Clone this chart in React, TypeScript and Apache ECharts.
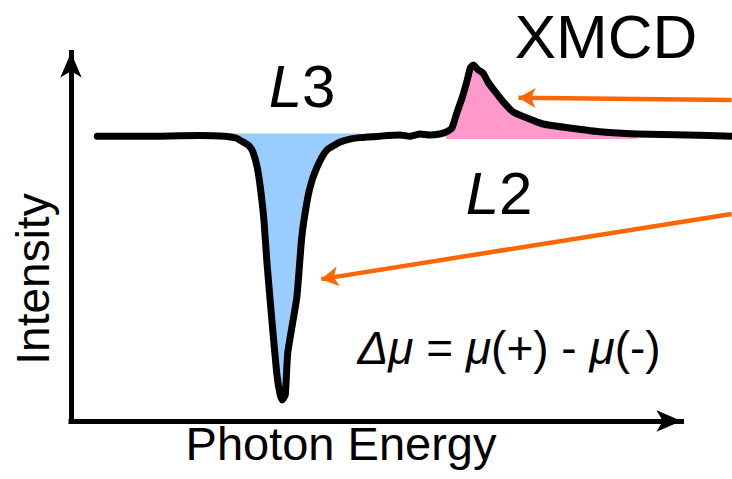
import React, { useEffect, useRef } from "react";
import * as echarts from "echarts";

// Photon energy (arbitrary units) and XMCD intensity (arbitrary units)
const energy = [4.3, 14.6, 21.1, 25.2, 27.0, 28.2, 29.2, 29.8, 30.5, 31.0, 31.6, 32.1, 32.9, 33.7, 34.2, 34.6, 35.1, 35.5, 37.0, 37.8, 38.8, 39.5, 40.3, 41.1, 41.9, 42.9, 44.1, 45.7, 47.3, 50.6, 53.9, 55.5, 57.2, 58.8, 60.4, 61.4, 62.4, 63.2, 64.1, 64.9, 65.4, 65.9, 66.7, 67.5, 68.3, 69.5, 70.8, 72.4, 74.7, 77.3, 81.7, 87.1, 92.7, 100.9, 108.2];
const intensity = [77.3, 77.3, 77.5, 77.3, 76.8, 75.7, 74.6, 73.0, 68.9, 63.5, 54.6, 42.9, 27.4, 13.0, 7.6, 5.7, 7.1, 18.5, 33.7, 49.9, 60.8, 65.4, 68.9, 71.6, 73.5, 74.6, 75.7, 76.5, 76.9, 77.3, 77.6, 77.3, 77.9, 77.6, 77.9, 78.4, 79.5, 83.6, 87.9, 92.5, 95.8, 96.6, 95.3, 94.4, 92.0, 89.3, 86.6, 83.9, 82.2, 80.6, 79.5, 78.4, 77.9, 77.6, 77.3];

// Edge ranges and fill baselines
const l3Range = [21, 48];
const l2Range = [61, 96];
const l3Baseline = 78;
const l2Baseline = 76.5;

// Annotation arrows: [fromX, fromY, toX, toY]
const arrowL2 = [108.2, 87.1, 73.3, 87.7];
const arrowL3 = [108.2, 56.2, 41.0, 38.5];

const FONT = "'Liberation Sans', Arial, Helvetica, sans-serif";

// layout
const W = 732;
const LEFT = 71;
const AXIS_RIGHT = 50.5;
const TOP = 52.5;
const BOTTOM = 58;
const X_MAX = 100;
const X_MAX_FULL = (X_MAX * (W - LEFT)) / (W - AXIS_RIGHT - LEFT);

export default function App() {
  const ref = useRef<HTMLDivElement>(null);

  useEffect(() => {
    if (!ref.current) return;
    const chart = echarts.init(ref.current, undefined, { renderer: "svg" });
    const curve = energy.map((e, i) => [e, intensity[i]]);
    const slice = (r: number[]) => curve.filter((p) => p[0] >= r[0] && p[0] <= r[1]);

    const hidden = {
      axisLine: { show: false },
      axisTick: { show: false },
      axisLabel: { show: false },
      splitLine: { show: false },
    };
    const visibleLine = {
      show: true,
      onZero: false,
      symbol: ["none", "arrow"],
      symbolSize: [16, 25],
      lineStyle: { color: "#000", width: 5, cap: "square" },
    };

    const arrowLine = (a: number[]) => [
      { coord: [a[0], a[1]], symbol: "none" },
      { coord: [a[2], a[3]], symbol: "arrow", symbolSize: [15, 17] },
    ];

    chart.setOption({
      animation: false,
      grid: [
        { left: LEFT, right: AXIS_RIGHT, top: TOP, bottom: BOTTOM },
        { left: LEFT, right: 0, top: TOP, bottom: BOTTOM },
      ],
      xAxis: [
        { type: "value", gridIndex: 0, min: 0, max: X_MAX, ...hidden, axisLine: visibleLine },
        { type: "value", gridIndex: 1, min: 0, max: X_MAX_FULL, ...hidden },
      ],
      yAxis: [
        { type: "value", gridIndex: 0, min: 0, max: 100, ...hidden, axisLine: visibleLine },
        { type: "value", gridIndex: 1, min: 0, max: 100, ...hidden },
      ],
      series: [
        {
          type: "line",
          xAxisIndex: 1,
          yAxisIndex: 1,
          data: slice(l3Range),
          symbol: "none",
          lineStyle: { width: 0, opacity: 0 },
          areaStyle: { color: "#99CCFF", opacity: 1, origin: l3Baseline },
          silent: true,
          z: 1,
        },
        {
          type: "line",
          xAxisIndex: 1,
          yAxisIndex: 1,
          data: slice(l2Range),
          symbol: "none",
          lineStyle: { width: 0, opacity: 0 },
          areaStyle: { color: "#FF99CC", opacity: 1, origin: l2Baseline },
          silent: true,
          z: 1,
        },
        {
          type: "line",
          xAxisIndex: 1,
          yAxisIndex: 1,
          data: curve,
          symbol: "none",
          clip: false,
          smooth: 0.15,
          lineStyle: { color: "#000", width: 7, cap: "round", join: "round" },
          silent: true,
          z: 3,
        },
        {
          type: "line",
          xAxisIndex: 1,
          yAxisIndex: 1,
          data: [],
          clip: false,
          silent: true,
          z: 4,
          markLine: {
            silent: true,
            animation: false,
            label: { show: false },
            emphasis: { disabled: true },
            lineStyle: { color: "#FF6600", width: 4.5, type: "solid" },
            data: [arrowLine(arrowL2), arrowLine(arrowL3)],
          },
        },
      ],
      graphic: [
        {
          type: "text",
          x: 606,
          y: 36,
          style: { text: "XMCD", font: `62px ${FONT}`, fill: "#000", align: "center", verticalAlign: "middle" },
        },
        {
          type: "text",
          x: 302,
          y: 86,
          style: {
            text: "{i|L}3",
            font: `60px ${FONT}`,
            fill: "#000",
            align: "center",
            verticalAlign: "middle",
            rich: { i: { fontStyle: "italic", fontSize: 60, fontFamily: FONT, fill: "#000" } },
          },
        },
        {
          type: "text",
          x: 499,
          y: 193,
          style: {
            text: "{i|L}2",
            font: `60px ${FONT}`,
            fill: "#000",
            align: "center",
            verticalAlign: "middle",
            rich: { i: { fontStyle: "italic", fontSize: 60, fontFamily: FONT, fill: "#000" } },
          },
        },
        {
          type: "text",
          x: 509,
          y: 348,
          style: {
            text: "{i|Δμ} = {i|μ}(+) - {i|μ}(-)",
            font: `46px ${FONT}`,
            fill: "#000",
            align: "center",
            verticalAlign: "middle",
            rich: { i: { fontStyle: "italic", fontSize: 46, fontFamily: FONT, fill: "#000" } },
          },
        },
        {
          type: "text",
          x: 341,
          y: 443,
          style: { text: "Photon Energy", font: `47px ${FONT}`, fill: "#000", align: "center", verticalAlign: "middle" },
        },
        {
          type: "text",
          x: 33,
          y: 279,
          rotation: Math.PI / 2,
          style: { text: "Intensity", font: `46px ${FONT}`, fill: "#000", align: "center", verticalAlign: "middle" },
        },
      ],
    });
    return () => chart.dispose();
  }, []);

  return (
    <div
      ref={ref}
      style={{ position: "fixed", left: 0, top: 0, width: 732, height: 479, background: "#fff" }}
    />
  );
}
